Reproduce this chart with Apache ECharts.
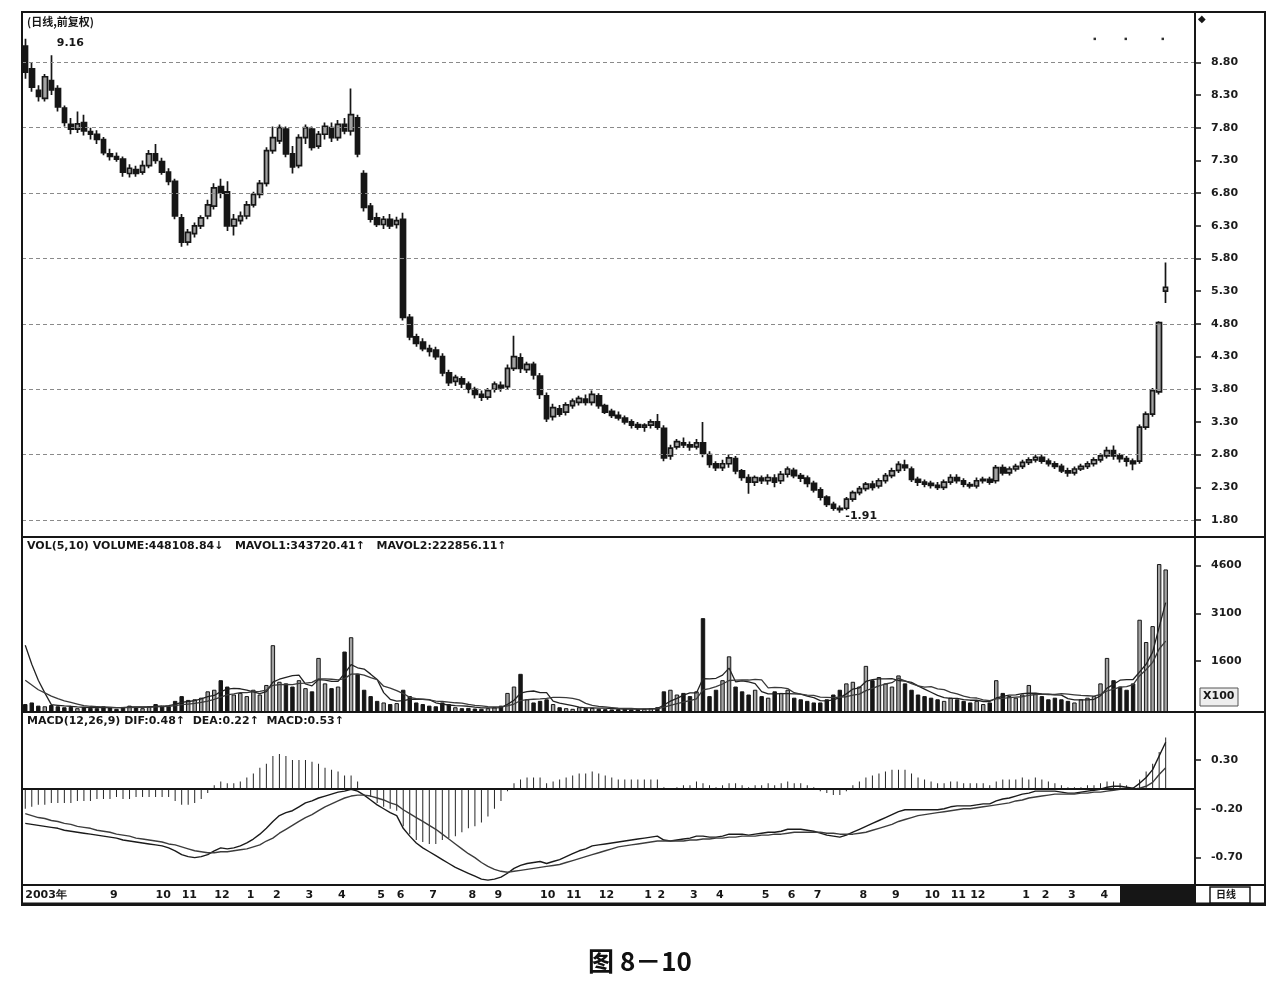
<!DOCTYPE html>
<html><head><meta charset="utf-8">
<script src="https://cdn.jsdelivr.net/npm/echarts@6/dist/echarts.min.js"></script>
<style>html,body{margin:0;padding:0;background:#fff}#c{width:1280px;height:990px}</style>
</head><body><div id="c"></div>
<script>
// ---------------- DATA ----------------
// candles: [open, close, low, high]
const candles = [
[9.05,8.65,8.55,9.16],[8.70,8.42,8.35,8.80],[8.37,8.28,8.20,8.45],[8.25,8.58,8.20,8.62],[8.52,8.38,8.30,8.91],
[8.40,8.12,8.05,8.45],[8.10,7.88,7.82,8.14],[7.85,7.78,7.70,7.95],[7.78,7.86,7.72,8.05],[7.88,7.75,7.68,8.00],
[7.74,7.70,7.62,7.80],[7.70,7.62,7.55,7.76],[7.62,7.42,7.38,7.66],[7.40,7.36,7.30,7.48],[7.36,7.32,7.28,7.42],
[7.32,7.12,7.05,7.36],[7.10,7.18,7.04,7.24],[7.16,7.10,7.05,7.22],[7.12,7.22,7.08,7.30],[7.22,7.40,7.18,7.46],
[7.40,7.30,7.25,7.55],[7.28,7.12,7.08,7.34],[7.12,6.98,6.92,7.18],[6.98,6.45,6.40,7.02],[6.42,6.05,5.98,6.48],
[6.05,6.20,6.00,6.25],[6.18,6.30,6.12,6.35],[6.30,6.42,6.25,6.46],[6.45,6.62,6.40,6.70],[6.60,6.88,6.55,6.95],
[6.90,6.80,6.72,7.02],[6.82,6.30,6.22,6.98],[6.30,6.40,6.15,6.48],[6.38,6.45,6.32,6.52],[6.45,6.62,6.40,6.68],
[6.62,6.78,6.58,6.82],[6.78,6.95,6.72,7.00],[6.95,7.45,6.90,7.50],[7.45,7.65,7.40,7.82],[7.60,7.80,7.55,7.85],
[7.78,7.40,7.35,7.82],[7.40,7.20,7.10,7.52],[7.22,7.65,7.18,7.70],[7.65,7.80,7.55,7.85],[7.78,7.50,7.45,7.82],
[7.52,7.70,7.48,7.75],[7.70,7.82,7.62,7.88],[7.80,7.65,7.58,7.88],[7.65,7.85,7.60,7.92],[7.85,7.75,7.70,7.95],
[7.75,8.00,7.68,8.40],[7.95,7.40,7.35,8.00],[7.10,6.58,6.52,7.15],[6.60,6.40,6.35,6.65],[6.42,6.32,6.28,6.50],
[6.32,6.40,6.25,6.45],[6.40,6.30,6.25,6.48],[6.32,6.38,6.26,6.44],[6.40,4.90,4.85,6.50],[4.90,4.60,4.55,4.95],
[4.60,4.50,4.45,4.65],[4.52,4.42,4.38,4.58],[4.42,4.38,4.30,4.48],[4.40,4.30,4.25,4.45],[4.30,4.05,4.00,4.35],
[4.05,3.90,3.85,4.10],[3.92,3.98,3.85,4.02],[3.96,3.88,3.82,4.00],[3.88,3.80,3.74,3.92],[3.80,3.72,3.66,3.84],
[3.72,3.68,3.62,3.78],[3.68,3.78,3.64,3.82],[3.80,3.88,3.75,3.92],[3.86,3.82,3.76,3.92],[3.84,4.12,3.80,4.18],
[4.12,4.30,4.08,4.62],[4.28,4.12,4.05,4.35],[4.10,4.18,4.05,4.22],[4.18,4.02,3.95,4.22],[4.00,3.72,3.65,4.05],
[3.70,3.35,3.30,3.75],[3.38,3.52,3.32,3.58],[3.50,3.42,3.38,3.56],[3.45,3.56,3.40,3.60],[3.55,3.62,3.50,3.66],
[3.60,3.66,3.55,3.70],[3.65,3.60,3.55,3.72],[3.60,3.72,3.55,3.78],[3.70,3.55,3.50,3.74],[3.55,3.45,3.42,3.58],
[3.46,3.40,3.36,3.50],[3.40,3.36,3.32,3.46],[3.36,3.30,3.26,3.40],[3.30,3.25,3.20,3.34],[3.26,3.22,3.18,3.30],
[3.22,3.25,3.15,3.28],[3.25,3.30,3.20,3.34],[3.30,3.22,3.18,3.42],[3.20,2.75,2.70,3.25],[2.78,2.90,2.72,2.95],
[2.92,3.00,2.88,3.04],[2.98,2.95,2.90,3.06],[2.95,2.92,2.86,3.00],[2.92,2.98,2.88,3.04],[2.98,2.82,2.76,3.30],
[2.80,2.65,2.60,2.85],[2.66,2.60,2.55,2.70],[2.60,2.66,2.55,2.72],[2.66,2.75,2.60,2.80],[2.74,2.55,2.50,2.78],
[2.55,2.45,2.40,2.58],[2.45,2.38,2.20,2.50],[2.38,2.45,2.32,2.48],[2.44,2.40,2.35,2.48],[2.40,2.45,2.34,2.50],
[2.44,2.38,2.30,2.50],[2.40,2.50,2.35,2.55],[2.50,2.58,2.45,2.62],[2.56,2.48,2.44,2.60],[2.48,2.44,2.38,2.52],
[2.44,2.36,2.30,2.48],[2.36,2.26,2.22,2.40],[2.26,2.15,2.10,2.30],[2.15,2.04,2.00,2.18],[2.04,1.98,1.94,2.08],
[1.98,1.96,1.91,2.02],[1.98,2.12,1.95,2.15],[2.12,2.22,2.08,2.25],[2.22,2.28,2.18,2.32],[2.28,2.35,2.24,2.38],
[2.35,2.30,2.25,2.40],[2.32,2.40,2.28,2.44],[2.40,2.48,2.36,2.52],[2.48,2.55,2.44,2.60],[2.56,2.65,2.52,2.70],
[2.64,2.60,2.55,2.72],[2.58,2.42,2.38,2.62],[2.42,2.38,2.32,2.46],[2.38,2.35,2.30,2.42],[2.36,2.33,2.28,2.40],
[2.33,2.30,2.26,2.38],[2.30,2.38,2.26,2.42],[2.38,2.45,2.34,2.50],[2.45,2.40,2.36,2.50],[2.40,2.35,2.30,2.44],
[2.34,2.32,2.28,2.38],[2.32,2.40,2.28,2.45],[2.40,2.42,2.36,2.46],[2.42,2.38,2.34,2.46],[2.40,2.60,2.36,2.64],
[2.60,2.52,2.48,2.65],[2.52,2.58,2.48,2.62],[2.58,2.62,2.54,2.66],[2.62,2.68,2.58,2.72],[2.68,2.72,2.64,2.76],
[2.72,2.76,2.68,2.80],[2.76,2.70,2.66,2.80],[2.70,2.66,2.62,2.74],[2.66,2.62,2.58,2.70],[2.62,2.55,2.52,2.66],
[2.55,2.52,2.46,2.60],[2.52,2.58,2.48,2.62],[2.58,2.62,2.55,2.66],[2.62,2.66,2.58,2.70],[2.66,2.72,2.62,2.76],
[2.72,2.78,2.68,2.82],[2.78,2.86,2.74,2.92],[2.86,2.78,2.72,2.94],[2.78,2.74,2.68,2.82],[2.74,2.70,2.62,2.78],
[2.70,2.66,2.56,2.74],[2.70,3.22,2.66,3.26],[3.22,3.42,3.18,3.46],[3.42,3.78,3.38,3.82],[3.76,4.82,3.72,4.84],[5.30,5.36,5.12,5.74]
];
// volume in units of x100
const volumes = [
250,300,200,180,220,180,150,160,120,150,
130,120,180,150,100,160,200,150,120,180,
250,200,180,350,500,380,400,450,650,700,
1000,800,550,600,500,700,550,850,2100,950,
900,800,1000,750,650,1700,900,750,800,1900,
2350,1200,700,500,350,300,250,280,700,500,
300,250,200,180,300,250,150,120,130,110,
100,120,150,200,600,800,1200,400,300,350,
400,250,150,120,100,150,120,130,100,90,
80,90,100,80,90,100,120,150,650,700,
550,600,500,650,2950,500,700,1000,1750,800,
650,550,700,500,450,650,600,700,450,400,
350,300,300,400,550,700,900,950,800,1450,
1000,1100,900,800,1150,900,700,550,500,450,
400,350,450,400,350,300,350,250,300,1000,
600,500,450,550,850,600,500,400,450,400,
350,300,400,450,500,900,1700,1000,800,700,
900,2900,2200,2700,4650,4481
];
const mavol1 = [
2100,1500,1000,600,230,210,190,180,160,150,
140,140,140,140,140,140,160,160,160,160,
180,180,200,240,300,330,360,410,480,520,
640,720,740,730,690,630,580,640,940,1030,
1090,1140,1160,880,820,1020,1000,960,960,1210,
1490,1390,1350,1190,1020,610,400,340,360,400,
400,400,390,290,250,220,200,190,180,150,
130,130,130,140,240,370,590,640,660,610,
610,340,280,240,200,150,130,130,120,120,
110,100,95,90,90,90,100,110,220,340,
430,530,600,600,1050,1040,1060,1160,1380,950,
980,950,890,640,570,570,580,580,570,560,
500,450,360,350,380,450,570,720,760,960,
1020,1040,1040,1050,990,970,930,820,720,620,
520,450,430,430,390,370,370,330,330,440,
490,530,540,580,590,590,570,560,540,530,
420,380,380,380,400,510,750,870,1000,1020,
1020,1260,1500,1880,2670,3437
];
const mavol2 = [
1000,850,700,600,500,420,350,300,250,200,
180,170,160,150,140,140,140,150,150,150,
160,170,180,200,230,250,270,300,340,400,
470,540,570,610,610,640,650,690,840,860,
870,860,900,910,930,1040,1040,1030,1010,1050,
1190,1200,1160,1080,1020,810,750,670,580,460,
420,400,380,340,330,310,290,280,240,210,
190,170,160,160,190,250,360,390,400,410,
430,460,460,450,430,380,270,210,180,160,
140,120,110,110,100,100,100,100,150,210,
263,314,354,411,697,737,795,880,990,1000,
1010,1005,1025,1010,760,775,765,735,605,565,
530,520,470,460,450,470,480,530,560,670,
740,820,880,920,1060,980,890,820,780,800,
730,700,620,570,500,450,440,380,360,410,
430,450,470,480,520,550,560,550,550,580,
560,540,520,510,500,550,660,720,780,800,
860,1140,1330,1560,1980,2227
];
const dif = [
-0.35,-0.36,-0.37,-0.38,-0.39,-0.40,-0.42,-0.43,-0.44,-0.45,
-0.46,-0.47,-0.48,-0.49,-0.50,-0.52,-0.53,-0.54,-0.55,-0.56,
-0.57,-0.58,-0.60,-0.63,-0.67,-0.69,-0.70,-0.69,-0.67,-0.63,
-0.60,-0.61,-0.60,-0.58,-0.55,-0.51,-0.46,-0.40,-0.33,-0.27,
-0.24,-0.22,-0.18,-0.14,-0.12,-0.09,-0.07,-0.05,-0.03,-0.02,
0.00,-0.02,-0.06,-0.11,-0.16,-0.20,-0.24,-0.27,-0.40,-0.48,
-0.55,-0.60,-0.64,-0.68,-0.72,-0.76,-0.80,-0.83,-0.86,-0.89,
-0.92,-0.93,-0.92,-0.90,-0.86,-0.81,-0.78,-0.76,-0.75,-0.74,
-0.76,-0.74,-0.72,-0.69,-0.66,-0.63,-0.61,-0.58,-0.57,-0.56,
-0.55,-0.54,-0.53,-0.52,-0.51,-0.50,-0.49,-0.48,-0.52,-0.53,
-0.52,-0.51,-0.50,-0.48,-0.48,-0.49,-0.49,-0.48,-0.46,-0.46,
-0.46,-0.47,-0.46,-0.45,-0.44,-0.44,-0.43,-0.41,-0.41,-0.41,
-0.42,-0.43,-0.45,-0.47,-0.48,-0.49,-0.47,-0.44,-0.41,-0.38,
-0.35,-0.32,-0.29,-0.26,-0.23,-0.21,-0.21,-0.21,-0.21,-0.21,
-0.21,-0.20,-0.18,-0.17,-0.17,-0.17,-0.16,-0.15,-0.15,-0.12,
-0.10,-0.09,-0.07,-0.05,-0.04,-0.02,-0.02,-0.02,-0.02,-0.03,
-0.04,-0.04,-0.03,-0.02,-0.01,0.00,0.02,0.03,0.03,0.02,
0.01,0.06,0.12,0.20,0.34,0.48
];
const dea = [
-0.25,-0.27,-0.29,-0.30,-0.32,-0.33,-0.35,-0.36,-0.38,-0.39,
-0.40,-0.42,-0.43,-0.44,-0.46,-0.47,-0.48,-0.50,-0.51,-0.52,
-0.53,-0.54,-0.56,-0.57,-0.59,-0.61,-0.63,-0.64,-0.65,-0.65,
-0.64,-0.64,-0.63,-0.62,-0.61,-0.59,-0.57,-0.53,-0.50,-0.45,
-0.41,-0.37,-0.33,-0.29,-0.26,-0.22,-0.18,-0.15,-0.12,-0.09,
-0.07,-0.06,-0.06,-0.07,-0.09,-0.11,-0.14,-0.16,-0.21,-0.25,
-0.29,-0.33,-0.37,-0.41,-0.46,-0.51,-0.56,-0.61,-0.66,-0.70,
-0.75,-0.79,-0.82,-0.84,-0.85,-0.84,-0.83,-0.82,-0.81,-0.80,
-0.79,-0.78,-0.77,-0.75,-0.73,-0.71,-0.69,-0.67,-0.65,-0.63,
-0.61,-0.59,-0.58,-0.57,-0.56,-0.55,-0.54,-0.53,-0.53,-0.53,
-0.53,-0.53,-0.52,-0.52,-0.51,-0.51,-0.50,-0.50,-0.49,-0.49,
-0.48,-0.48,-0.48,-0.47,-0.47,-0.46,-0.46,-0.45,-0.44,-0.44,
-0.44,-0.44,-0.44,-0.45,-0.45,-0.46,-0.46,-0.46,-0.45,-0.44,
-0.42,-0.40,-0.38,-0.36,-0.33,-0.31,-0.29,-0.27,-0.26,-0.25,
-0.24,-0.23,-0.22,-0.21,-0.20,-0.20,-0.19,-0.18,-0.17,-0.16,
-0.15,-0.14,-0.12,-0.11,-0.09,-0.08,-0.07,-0.06,-0.05,-0.05,
-0.05,-0.05,-0.04,-0.04,-0.03,-0.03,-0.02,-0.01,0.00,0.00,
0.00,0.01,0.03,0.07,0.15,0.22
];
const macdHist = [
-0.20,-0.18,-0.16,-0.16,-0.14,-0.14,-0.14,-0.14,-0.12,-0.12,
-0.12,-0.10,-0.10,-0.10,-0.08,-0.10,-0.10,-0.08,-0.08,-0.08,
-0.08,-0.08,-0.08,-0.12,-0.16,-0.16,-0.14,-0.10,-0.04,0.04,
0.08,0.06,0.06,0.08,0.12,0.16,0.22,0.26,0.34,0.36,
0.34,0.30,0.30,0.30,0.28,0.26,0.22,0.20,0.18,0.14,
0.14,0.08,0.00,-0.08,-0.14,-0.18,-0.20,-0.22,-0.38,-0.46,
-0.52,-0.54,-0.56,-0.56,-0.52,-0.50,-0.48,-0.44,-0.40,-0.38,
-0.34,-0.28,-0.20,-0.12,-0.02,0.06,0.10,0.12,0.12,0.12,
0.06,0.08,0.10,0.12,0.14,0.16,0.16,0.18,0.16,0.14,
0.12,0.10,0.10,0.10,0.10,0.10,0.10,0.10,0.02,0.00,
0.02,0.04,0.04,0.08,0.06,0.04,0.02,0.04,0.06,0.06,
0.04,0.02,0.04,0.04,0.06,0.04,0.06,0.08,0.06,0.06,
0.04,0.02,-0.02,-0.04,-0.06,-0.06,-0.02,0.04,0.08,0.12,
0.14,0.16,0.18,0.20,0.20,0.20,0.16,0.12,0.10,0.08,
0.06,0.06,0.08,0.08,0.06,0.06,0.06,0.06,0.04,0.08,
0.10,0.10,0.10,0.12,0.10,0.12,0.10,0.08,0.06,0.04,
0.02,0.02,0.02,0.04,0.04,0.06,0.08,0.08,0.06,0.04,
0.02,0.10,0.18,0.26,0.38,0.53
];
// x-axis month labels: candle index -> text
const tickIdx  = [0,13,20,24,29,34,38,43,48,54,57,62,68,72,79,83,88,95,97,102,106,113,117,121,128,133,138,142,145,153,156,160,165];
const tickText = ['2003年','9','10','11','12','1','2','3','4','5','6','7','8','9','10','11','12','1','2','3','4','5','6','7','8','9','10','11','12','1','2','3','4'];
const priceTicks = [1.8,2.3,2.8,3.3,3.8,4.3,4.8,5.3,5.8,6.3,6.8,7.3,7.8,8.3,8.8];
const priceGrid = [1.8,2.8,3.8,4.8,5.8,6.8,7.8,8.8];
const volTicks = [1600,3100,4600];
const macdTicks = [-0.7,-0.2,0.3];
const highMark = {idx: 0, value: 9.16};
const lowMark = {idx: 125, value: 1.91};

// ---------------- CHART ----------------
const TOTAL = 180;
const cats = Array.from({length: TOTAL}, (_, i) => String(i));
const labelMap = {};
tickIdx.forEach((k, i) => { labelMap[k] = tickText[i]; });
const DARK = '#161616', UP_FILL = '#a3a3a3';
const FONT = 'DejaVu Sans';
const isUp = candles.map(c => c[1] >= c[0]);
const volData = volumes.map((v, i) => ({
  value: v,
  itemStyle: isUp[i] ? {color: UP_FILL, borderColor: DARK, borderWidth: 1} : {color: DARK, borderColor: DARK, borderWidth: 1}
}));

function xAx(gi, showLabels) {
  return {
    type: 'category', gridIndex: gi, data: cats, boundaryGap: true,
    axisLine: {show: showLabels, lineStyle: {color: DARK, width: 2}},
    axisTick: {show: false},
    splitLine: {show: false},
    axisLabel: showLabels ? {
      show: true,
      interval: (idx) => labelMap[idx] !== undefined,
      formatter: (v, idx) => labelMap[idx] !== undefined ? labelMap[idx] : '',
      align: 'left', margin: 5, fontFamily: FONT, fontWeight: 'bold', fontSize: 11, color: DARK
    } : {show: false}
  };
}
function yAx(gi, min, max, ticks, fmt) {
  return {
    type: 'value', gridIndex: gi, position: 'right', min: min, max: max,
    axisLine: {show: true, lineStyle: {color: DARK, width: 2}},
    axisTick: {show: true, inside: false, length: 6, customValues: ticks, lineStyle: {color: DARK, width: 1.5}},
    axisLabel: {show: true, customValues: ticks, formatter: fmt, margin: 16,
      fontFamily: FONT, fontWeight: 'bold', fontSize: 11, color: '#1c1c1c'},
    splitLine: {show: false}
  };
}

const chart = echarts.init(document.getElementById('c'));
chart.setOption({
  animation: false,
  backgroundColor: '#ffffff',
  grid: [
    {left: 22, right: 85, top: 12, height: 525},
    {left: 22, right: 85, top: 537, height: 175},
    {left: 22, right: 85, top: 712, height: 173}
  ],
  xAxis: [xAx(0, false), xAx(1, false), xAx(2, true)],
  yAxis: [
    yAx(0, 1.54, 9.57, priceTicks, v => v.toFixed(2)),
    yAx(1, 0, 5500, volTicks, v => String(Math.round(v))),
    yAx(2, -0.98, 0.79, macdTicks, v => v.toFixed(2))
  ],
  series: [
    {
      type: 'candlestick', xAxisIndex: 0, yAxisIndex: 0, data: candles, barWidth: '78%',
      itemStyle: {color: UP_FILL, color0: DARK, borderColor: DARK, borderColor0: DARK, borderWidth: 1.7},
      markLine: {
        silent: true, symbol: 'none', label: {show: false},
        lineStyle: {type: [4, 3], color: '#8a8a8a', width: 1},
        data: priceGrid.map(v => ({yAxis: v}))
      },
      markPoint: {
        silent: true, symbol: 'rect', symbolSize: [1, 1], itemStyle: {color: 'rgba(0,0,0,0)'},
        label: {show: true, position: 'right', fontFamily: FONT, fontWeight: 'bold', fontSize: 11, color: DARK},
        data: [
          {coord: [String(highMark.idx), highMark.value], label: {formatter: highMark.value.toFixed(2), offset: [26, 4]}},
          {coord: [String(lowMark.idx), lowMark.value], label: {formatter: '-' + lowMark.value.toFixed(2), offset: [0, 3]}}
        ]
      }
    },
    {type: 'bar', xAxisIndex: 1, yAxisIndex: 1, data: volData, barWidth: '68%'},
    {type: 'line', xAxisIndex: 1, yAxisIndex: 1, data: mavol1, symbol: 'none', lineStyle: {color: '#222', width: 1.3}},
    {type: 'line', xAxisIndex: 1, yAxisIndex: 1, data: mavol2, symbol: 'none', lineStyle: {color: '#3a3a3a', width: 1.3}},
    {
      type: 'bar', xAxisIndex: 2, yAxisIndex: 2, data: macdHist, barWidth: 1,
      itemStyle: {color: '#262626'},
      markLine: {silent: true, symbol: 'none', label: {show: false},
        lineStyle: {type: 'solid', color: DARK, width: 1.5}, data: [{yAxis: 0}]}
    },
    {type: 'line', xAxisIndex: 2, yAxisIndex: 2, data: dif, symbol: 'none', lineStyle: {color: '#1a1a1a', width: 1.4}},
    {type: 'line', xAxisIndex: 2, yAxisIndex: 2, data: dea, symbol: 'none', lineStyle: {color: '#3c3c3c', width: 1.4}}
  ],
  graphic: [
    {type: 'rect', z: 100, silent: true, shape: {x: 22, y: 12, width: 1243, height: 893},
      style: {fill: 'none', stroke: DARK, lineWidth: 2}},
    {type: 'line', z: 100, silent: true, shape: {x1: 1195, y1: 12, x2: 1195, y2: 905}, style: {stroke: DARK, lineWidth: 2}},
    {type: 'line', z: 100, silent: true, shape: {x1: 22, y1: 537, x2: 1265, y2: 537}, style: {stroke: DARK, lineWidth: 2}},
    {type: 'line', z: 100, silent: true, shape: {x1: 22, y1: 712, x2: 1265, y2: 712}, style: {stroke: DARK, lineWidth: 2}},
    {type: 'line', z: 100, silent: true, shape: {x1: 22, y1: 885, x2: 1265, y2: 885}, style: {stroke: DARK, lineWidth: 2}},
    {type: 'line', z: 100, silent: true, shape: {x1: 22, y1: 904, x2: 1265, y2: 904}, style: {stroke: DARK, lineWidth: 3}},
    {type: 'rect', z: 100, silent: true, shape: {x: 1120, y: 886, width: 75, height: 18}, style: {fill: DARK}},
    {type: 'rect', z: 100, silent: true, shape: {x: 1210, y: 887, width: 40, height: 16},
      style: {fill: '#ffffff', stroke: DARK, lineWidth: 1.5}},
    {type: 'text', z: 101, silent: true, left: 1216, top: 889,
      style: {text: '日线', fontFamily: 'Noto Sans CJK SC', fontWeight: 'bold', fontSize: 10, fill: DARK}},
    {type: 'rect', z: 100, silent: true, shape: {x: 1200, y: 688, width: 38, height: 18},
      style: {fill: '#eeeeee', stroke: '#555', lineWidth: 1}},
    {type: 'text', z: 101, silent: true, left: 1203, top: 691,
      style: {text: 'X100', fontFamily: FONT, fontWeight: 'bold', fontSize: 11, fill: DARK}},
    {type: 'text', z: 101, silent: true, left: 27, top: 16,
      style: {text: '(日线,前复权)', fontFamily: 'Noto Sans CJK SC', fontWeight: 'bold', fontSize: 11, fill: DARK}},
    {type: 'text', z: 101, silent: true, left: 27, top: 541,
      style: {text: 'VOL(5,10) VOLUME:448108.84↓   MAVOL1:343720.41↑   MAVOL2:222856.11↑',
        fontFamily: FONT, fontWeight: 'bold', fontSize: 11, fill: DARK}},
    {type: 'text', z: 101, silent: true, left: 27, top: 716,
      style: {text: 'MACD(12,26,9) DIF:0.48↑  DEA:0.22↑  MACD:0.53↑',
        fontFamily: FONT, fontWeight: 'bold', fontSize: 11, fill: DARK}},
    {type: 'text', z: 101, silent: true, left: 1093, top: 34, style: {text: '▪', fontSize: 10, fill: '#333'}},
    {type: 'text', z: 101, silent: true, left: 1124, top: 34, style: {text: '▪', fontSize: 10, fill: '#333'}},
    {type: 'text', z: 101, silent: true, left: 1161, top: 34, style: {text: '▪', fontSize: 10, fill: '#333'}},
    {type: 'text', z: 101, silent: true, left: 1198, top: 14, style: {text: '◆', fontSize: 10, fill: DARK}},
    {type: 'text', z: 101, silent: true, left: 'center', top: 948,
      style: {text: '图 8－10', fontFamily: 'Noto Sans CJK SC', fontWeight: 'bold', fontSize: 26, fill: '#111'}}
  ]
});
</script>
</body></html>
